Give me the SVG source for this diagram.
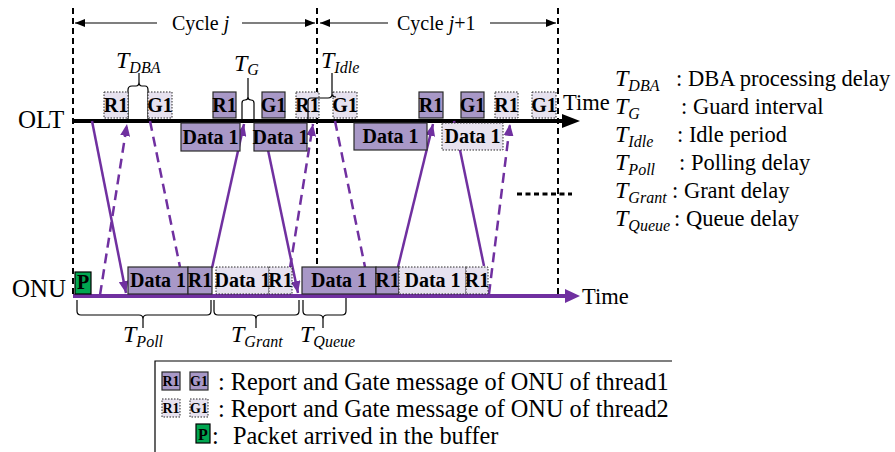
<svg xmlns="http://www.w3.org/2000/svg" width="895" height="452" viewBox="0 0 895 452">
<defs>
<style>
text{font-family:"Liberation Serif","Times New Roman",serif;fill:#000}
.b{font-weight:bold;font-size:20px;text-anchor:middle}
.bs{font-weight:bold;font-size:14px;text-anchor:middle}
.t{font-size:22.5px}
.tk{font-size:24.3px}
.cy{font-size:20px}
.it{font-style:italic}
.T{font-size:24px;font-style:italic}
.sub{font-size:16px;font-style:italic}
.dk{fill:#a898c7;stroke:#2a2a2a;stroke-width:1.2}
.lt{fill:#e7e2ef;stroke:#2a2a2a;stroke-width:1;stroke-dasharray:1.5 1.5}
.pk{fill:#00a650;stroke:#000;stroke-width:1.2}
.vd{stroke:#000;stroke-width:2;stroke-dasharray:6 4;fill:none}
.br{fill:none;stroke:#000;stroke-width:1.2}
.thin{fill:none;stroke:#000;stroke-width:1.2}
.c{fill:none;stroke:#7030a0;stroke-width:2.5}
.cd{stroke-dasharray:10 6}
</style>
<marker id="ah" markerUnits="userSpaceOnUse" markerWidth="14" markerHeight="10" refX="12" refY="5" orient="auto">
<path d="M0,0 L12,5 L0,10 Z" fill="#7030a0"/>
</marker>
<marker id="bk" markerUnits="userSpaceOnUse" markerWidth="12" markerHeight="8" refX="10" refY="4" orient="auto">
<path d="M0,0 L10,4 L0,8 Z" fill="#000"/>
</marker>
</defs>

<!-- cycle boundaries -->
<g id="cycles">
<path class="vd" d="M73,8 V296 M317,8 V267 M558,8 V297"/>
<path class="thin" d="M157,23 H75" marker-end="url(#bk)"/>
<path class="thin" d="M242,23 H315" marker-end="url(#bk)"/>
<path class="thin" d="M388,23 H320" marker-end="url(#bk)"/>
<path class="thin" d="M490,23 H556" marker-end="url(#bk)"/>
<text class="cy" x="172" y="30">Cycle <tspan class="it">j</tspan></text>
<text class="cy" x="397" y="30">Cycle <tspan class="it">j</tspan>+1</text>
</g>

<!-- OLT timeline -->
<g id="olt">
<text x="18" y="128" style="font-size:25px">OLT</text>
<path d="M73,121 H564" stroke="#000" stroke-width="4"/>
<path d="M562,114 L580,121 L562,128 Z" fill="#000"/>
<text class="t" x="563" y="110">Time</text>
</g>

<!-- ONU timeline -->
<g id="onu">
<text x="12" y="297" style="font-size:25px">ONU</text>
<path d="M73,296 H567" stroke="#7030a0" stroke-width="4"/>
<path d="M565,289 L580,296 L565,303 Z" fill="#7030a0"/>
<text class="t" x="582" y="304">Time</text>
</g>

<!-- more cycles follow -->
<path id="more" d="M517,194 H572" stroke="#000" stroke-width="3" stroke-dasharray="5 3.5"/>

<!-- delay braces above the OLT line -->
<g id="t-dba">
<path class="br" d="M128,119 V90 Q128,86 132,86 H136 Q139,86 139,82 V73 M139,82 Q139,86 142,86 H145 Q148,86 148,90 V119"/>
<text class="T" x="116" y="68">T<tspan class="sub" dy="5">DBA</tspan></text>
</g>
<g id="t-g">
<path class="br" d="M242,119 V103 Q242,100 245,100 Q248,100 248,97 V78 M248,97 Q248,100 251,100 Q254,100 254,103 V119"/>
<text class="T" x="234" y="71">T<tspan class="sub" dy="4">G</tspan></text>
</g>
<g id="t-idle">
<text class="T" x="321" y="68">T<tspan class="sub" dy="5">Idle</tspan></text>
</g>

<!-- connectors -->
<g id="connectors">
<path class="c" d="M92,121 L126,293" marker-end="url(#ah)"/>
<path class="c cd" d="M100,295 L127,124" marker-end="url(#ah)"/>
<path class="c cd" d="M150,121 L180,267"/>
<path class="c" d="M212,268 L244,124" marker-end="url(#ah)"/>
<path class="c" d="M268,150 L298,293" marker-end="url(#ah)"/>
<path class="c cd" d="M290,268 L313,124" marker-end="url(#ah)"/>
<path class="c cd" d="M335,121 L365,267"/>
<path class="c" d="M398,267 L433,124" marker-end="url(#ah)"/>
<path class="c" d="M454,121 L484,266"/>
<path class="c cd" d="M489,294 L510,124" marker-end="url(#ah)"/>
</g>

<!-- OLT messages -->
<g id="olt-r1-a"><rect class="lt" x="104" y="92" width="24" height="26"/><text class="b" x="116" y="112">R1</text></g>
<g id="olt-g1-a"><rect class="lt" x="148" y="92" width="24" height="26"/><text class="b" x="160" y="112">G1</text></g>
<g id="olt-r1-b"><rect class="dk" x="213" y="92" width="23" height="26"/><text class="b" x="224.5" y="112">R1</text></g>
<g id="olt-g1-b"><rect class="dk" x="262" y="92" width="23" height="26"/><text class="b" x="273.5" y="112">G1</text></g>
<g id="olt-r1-c"><rect class="lt" x="296" y="92" width="23" height="26"/><text class="b" x="307.5" y="112">R1</text></g>
<g id="olt-g1-c"><rect class="lt" x="333" y="92" width="24" height="26"/><text class="b" x="345" y="112">G1</text></g>
<g id="olt-r1-d"><rect class="dk" x="419" y="92" width="24" height="26"/><text class="b" x="431" y="112">R1</text></g>
<g id="olt-g1-d"><rect class="dk" x="461" y="92" width="23" height="26"/><text class="b" x="472.5" y="112">G1</text></g>
<g id="olt-r1-e"><rect class="lt" x="495" y="92" width="23" height="26"/><text class="b" x="506.5" y="112">R1</text></g>
<g id="olt-g1-e"><rect class="lt" x="532" y="92" width="24" height="26"/><text class="b" x="544" y="112">G1</text></g>

<g id="olt-data-a"><rect class="dk" x="181" y="123" width="59" height="28"/><text class="b" x="210.5" y="144">Data 1</text></g>
<g id="olt-data-b"><rect class="dk" x="254" y="123" width="53" height="28"/><text class="b" x="280.5" y="144">Data 1</text></g>
<g id="olt-data-c"><rect class="dk" x="354" y="123" width="73" height="27"/><text class="b" x="390.5" y="143">Data 1</text></g>
<g id="olt-data-d"><rect class="lt" x="442" y="123" width="61" height="27"/><text class="b" x="472.5" y="143">Data 1</text></g>

<!-- idle brace, drawn over the report box -->
<path class="br" d="M308,119 V101 Q308,98 311,98 H328 Q332,98 332,94 V73 M332,94 Q332,97 336,97"/>

<!-- ONU messages -->
<g id="onu-p"><rect class="pk" x="75" y="272" width="16" height="22"/><text class="b" x="83" y="289">P</text></g>
<g id="onu-data-a"><rect class="dk" x="128" y="267" width="60" height="27"/><text class="b" x="158" y="287">Data 1</text></g>
<g id="onu-r1-a"><rect class="dk" x="188" y="267" width="24" height="27"/><text class="b" x="200" y="287">R1</text></g>
<g id="onu-data-b"><rect class="lt" x="216" y="267" width="53" height="27"/><text class="b" x="242.5" y="287">Data 1</text></g>
<g id="onu-r1-b"><rect class="lt" x="269" y="267" width="23" height="27"/><text class="b" x="280.5" y="287">R1</text></g>
<g id="onu-data-c"><rect class="dk" x="302" y="267" width="74" height="27"/><text class="b" x="339" y="287">Data 1</text></g>
<g id="onu-r1-c"><rect class="dk" x="376" y="267" width="23" height="27"/><text class="b" x="387.5" y="287">R1</text></g>
<g id="onu-data-d"><rect class="lt" x="399" y="267" width="67" height="27"/><text class="b" x="432.5" y="287">Data 1</text></g>
<g id="onu-r1-d"><rect class="lt" x="466" y="267" width="22" height="27"/><text class="b" x="477" y="287">R1</text></g>

<!-- delay braces under the ONU line -->
<g id="t-poll">
<path class="br" d="M77,300 V311 Q77,315 81,315 H139 Q143,315 143,319 V328 M143,319 Q143,315 147,315 H207 Q211,315 211,311 V300"/>
<text class="T" x="123" y="342">T<tspan class="sub" dy="5">Poll</tspan></text>
</g>
<g id="t-grant">
<path class="br" d="M214,300 V311 Q214,315 218,315 H252 Q256,315 256,319 V328 M256,319 Q256,315 260,315 H295 Q299,315 299,311 V300"/>
<text class="T" x="231" y="342">T<tspan class="sub" dy="5">Grant</tspan></text>
</g>
<g id="t-queue">
<path class="br" d="M303,300 V311 Q303,315 307,315 H319 Q323,315 323,319 V328 M323,319 Q323,315 327,315 H342 Q346,315 346,311 V298"/>
<text class="T" x="300" y="342">T<tspan class="sub" dy="5">Queue</tspan></text>
</g>

<!-- symbol key -->
<g id="key-delays">
<text class="T" x="615" y="86">T<tspan class="sub" dy="5">DBA</tspan></text><text class="t" x="676" y="86">: DBA processing delay</text>
<text class="T" x="615" y="114">T<tspan class="sub" dy="5">G</tspan></text><text class="t" x="681" y="114">: Guard interval</text>
<text class="T" x="615" y="142">T<tspan class="sub" dy="5">Idle</tspan></text><text class="t" x="677" y="142">: Idle period</text>
<text class="T" x="615" y="170">T<tspan class="sub" dy="5">Poll</tspan></text><text class="t" x="679" y="170">: Polling delay</text>
<text class="T" x="615" y="198">T<tspan class="sub" dy="5">Grant</tspan></text><text class="t" x="672" y="198">: Grant delay</text>
<text class="T" x="615" y="226">T<tspan class="sub" dy="5">Queue</tspan></text><text class="t" x="674" y="226">: Queue delay</text>
</g>

<g id="key-messages">
<path class="thin" d="M155,452 V361 H672"/>
<rect class="dk" x="162" y="372" width="18" height="18"/><text class="bs" x="171" y="386">R1</text>
<rect class="dk" x="190" y="372" width="18" height="18"/><text class="bs" x="199" y="386">G1</text>
<text class="tk" x="218" y="390">: Report and Gate message of ONU of thread1</text>
<rect class="lt" x="162" y="399" width="18" height="18"/><text class="bs" x="171" y="413">R1</text>
<rect class="lt" x="190" y="399" width="18" height="18"/><text class="bs" x="199" y="413">G1</text>
<text class="tk" x="218" y="417">: Report and Gate message of ONU of thread2</text>
<rect class="pk" x="196" y="424" width="14" height="19"/><text class="b" x="203" y="440" style="font-size:16px">P</text>
<text class="tk" x="212" y="444">:</text>
<text class="tk" x="233" y="444">Packet arrived in the buffer</text>
</g>
</svg>
